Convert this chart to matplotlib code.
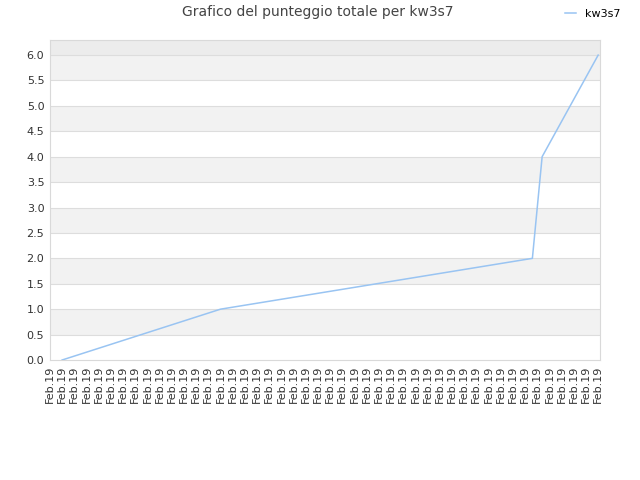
import numpy as np
import matplotlib.pyplot as plt

# score over time (x = position on the date axis)
x_vals = [1, 14, 39.6, 40.4, 45]
scores = [0.0, 1.0, 2.0, 4.0, 6.0]
n_labels = 46
tick_labels = ['Feb.19'] * n_labels
y_ticks = np.arange(0, 6.01, 0.5)

fig = plt.figure(figsize=(6.4, 4.8), dpi=100)
ax = fig.add_axes([0.078, 0.25, 0.8595, 0.667])

# alternating background bands
for i, y0 in enumerate(y_ticks):
    if i % 2 == 1:
        ax.axhspan(y0, y0 + 0.5, color='#f2f2f2', zorder=0, lw=0)
ax.axhspan(6.0, 6.3, color='#ececec', zorder=0, lw=0)
for y in y_ticks[1:]:
    ax.axhline(y, color='#dddddd', lw=0.8, zorder=1)

ax.plot(x_vals, scores, color='#99c4f2', lw=1.1, label='kw3s7', zorder=3)

ax.set_xlim(0, 45.15)
ax.set_ylim(0, 6.3)
ax.set_yticks(y_ticks)
ax.set_yticklabels([f'{v:.1f}' for v in y_ticks])
ax.set_xticks(range(n_labels))
ax.set_xticklabels(tick_labels, rotation=90)
ax.tick_params(length=0, labelsize=8, labelcolor='#333333', pad=4)

for s in ax.spines.values():
    s.set_color('#d9d9d9')

fig.text(0.497, 0.975, 'Grafico del punteggio totale per kw3s7', ha='center', va='center',
         fontsize=10, color='#444444')
fig.legend(loc='upper right', bbox_to_anchor=(0.985, 1.003), frameon=False, fontsize=8,
           handlelength=1.0, handletextpad=0.8)

plt.savefig('out.png')
